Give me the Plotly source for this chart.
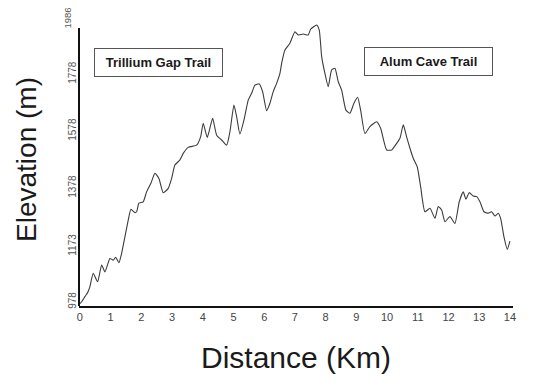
import plotly.graph_objects as go

# Distance along the route (km) and elevation (m)
distance_km = [0.0, 0.055, 0.163, 0.251, 0.326, 0.433, 0.576, 0.707, 0.814, 0.977,
               1.084, 1.162, 1.270, 1.358, 1.465, 1.573, 1.660, 1.791, 1.846, 1.921,
               2.061, 2.172, 2.312, 2.442, 2.572, 2.712, 2.875, 2.986, 3.093, 3.256,
               3.363, 3.526, 3.800, 3.930, 4.015, 4.145, 4.321, 4.451, 4.614, 4.776,
               4.884, 5.014, 5.102, 5.209, 5.340, 5.480, 5.590, 5.698, 5.838, 5.948,
               6.079, 6.186, 6.294, 6.404, 6.512, 6.567, 6.675, 6.837, 7.000, 7.108,
               7.270, 7.433, 7.511, 7.707, 7.792, 7.870, 7.977, 8.085, 8.195, 8.303,
               8.410, 8.521, 8.661, 8.791, 8.921, 9.042, 9.139, 9.279, 9.442, 9.660,
               9.791, 9.986, 10.149, 10.312, 10.419, 10.527, 10.637, 10.745, 10.852, 10.982,
               11.093, 11.233, 11.396, 11.559, 11.666, 11.777, 11.884, 12.047, 12.210, 12.350,
               12.480, 12.568, 12.675, 12.806, 12.916, 13.024, 13.154, 13.294, 13.405, 13.512,
               13.620, 13.698, 13.805, 13.912, 14.0]
elevation_m = [972, 979, 997, 1011, 1032, 1079, 1049, 1108, 1084, 1131,
               1125, 1135, 1116, 1149, 1207, 1266, 1304, 1292, 1295, 1325,
               1330, 1365, 1395, 1430, 1412, 1362, 1377, 1412, 1459, 1477,
               1500, 1521, 1529, 1558, 1606, 1556, 1623, 1564, 1547, 1529,
               1576, 1670, 1629, 1568, 1617, 1687, 1711, 1740, 1744, 1717,
               1650, 1676, 1717, 1746, 1781, 1816, 1863, 1887, 1927, 1916,
               1919, 1916, 1936, 1951, 1933, 1840, 1781, 1734, 1793, 1799,
               1752, 1722, 1652, 1641, 1676, 1697, 1652, 1570, 1594, 1611,
               1588, 1512, 1512, 1535, 1553, 1600, 1558, 1518, 1483, 1453,
               1383, 1295, 1307, 1272, 1313, 1301, 1260, 1278, 1254, 1330,
               1365, 1339, 1362, 1350, 1348, 1330, 1295, 1290, 1295, 1280,
               1290, 1272, 1207, 1163, 1192]

x_tick_vals = list(range(0, 15))
y_tick_vals = [978, 1173, 1378, 1578, 1778, 1986]
y_tick_text = ["978", "1173", "1378", "1578", "1778", "1986"]

trail_labels = ["Trillium Gap Trail", "Alum Cave Trail"]
trail_label_x = [2.556, 11.35]
trail_label_y = [1819, 1823]

FONT = "Arial, Liberation Sans, Helvetica, sans-serif"

fig = go.Figure()
fig.add_trace(go.Scatter(
    x=distance_km, y=elevation_m, mode="lines",
    line=dict(color="#3c3c3c", width=1.1, shape="spline", smoothing=0.5),
    hoverinfo="skip", showlegend=False,
))

for txt, xv, yv in zip(trail_labels, trail_label_x, trail_label_y):
    fig.add_annotation(
        x=xv, y=yv, xref="x", yref="y", text="<b>" + txt + "</b>",
        showarrow=False, font=dict(family=FONT, size=13, color="#1a1a1a"),
        bordercolor="#555555", borderwidth=1, borderpad=4,
        bgcolor="white", width=119, height=19,
    )

# the top tick label sits at the very top edge; draw it as an annotation so it is not dropped
fig.add_annotation(
    x=0, xref="paper", y=y_tick_vals[-1], yref="y", text=y_tick_text[-1],
    showarrow=False, textangle=-90, xanchor="right", yanchor="middle", xshift=-4, yshift=-3,
    font=dict(family=FONT, size=9.5, color="#555555"),
)

# Y axis line (stops below the top tick label, as in the original)
fig.add_shape(type="line", xref="paper", yref="y", x0=0, x1=0, y0=964, y1=1940,
              line=dict(color="#111111", width=2))

# page body has an 8px default margin, so the figure is 8px smaller each way
fig.update_layout(
    width=532, height=378,
    margin=dict(l=71, r=27, t=5, b=80),
    paper_bgcolor="white", plot_bgcolor="white",
    font=dict(family=FONT),
    xaxis=dict(
        range=[-0.03, 14.1], tickmode="array", tickvals=x_tick_vals,
        showgrid=False, zeroline=False, showline=True, linecolor="#111111", linewidth=2,
        ticks="", tickfont=dict(size=11, color="#444444"), automargin=False,
        title=dict(text="Distance (Km)", font=dict(size=30, color="#1a1a1a"), standoff=25),
    ),
    yaxis=dict(
        range=[964, 1993], tickmode="array", tickvals=y_tick_vals[:-1], ticktext=y_tick_text[:-1],
        showgrid=False, zeroline=False, showline=False, automargin=False,
        ticks="", tickangle=-90, tickfont=dict(size=10, color="#555555"),
        title=dict(text="Elevation (m)", font=dict(size=28, color="#1a1a1a"), standoff=22),
    ),
)

fig.write_html("out.html")
